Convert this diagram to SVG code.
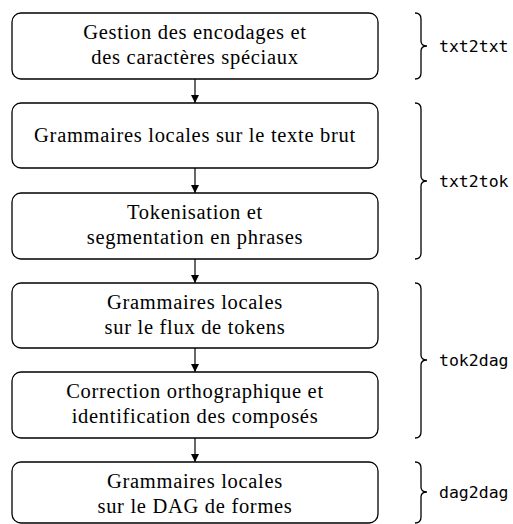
<svg xmlns="http://www.w3.org/2000/svg" width="513" height="524" viewBox="0 0 513 524">
<style>
.box{fill:#fff;stroke:#000;stroke-width:1.3}
.br{fill:none;stroke:#000;stroke-width:1.3}
.c{stroke:#000;stroke-width:1.2;fill:none}
</style>
<defs>
<marker id="ah" markerWidth="8" markerHeight="10" refX="8" refY="5" orient="auto" markerUnits="userSpaceOnUse">
<path d="M0,1 L8,5 L0,9 z" fill="#000"/>
</marker>
</defs>
<g id="connectors">
<line class="c" x1="195" y1="79" x2="195" y2="103" marker-end="url(#ah)"/>
<line class="c" x1="195" y1="168" x2="195" y2="193" marker-end="url(#ah)"/>
<line class="c" x1="195" y1="259" x2="195" y2="283" marker-end="url(#ah)"/>
<line class="c" x1="195" y1="348" x2="195" y2="372" marker-end="url(#ah)"/>
<line class="c" x1="195" y1="438" x2="195" y2="462" marker-end="url(#ah)"/>
</g>
<g id="nodes" font-family="Liberation Serif" font-size="20.5" text-anchor="middle" letter-spacing="0.7" fill="#000">
<g id="n1"><rect class="box" x="12" y="13" width="366" height="66" rx="9"/>
<text x="195" y="39">Gestion des encodages et</text>
<text x="195" y="64">des caractères spéciaux</text></g>
<g id="n2"><rect class="box" x="12" y="103" width="366" height="65" rx="9"/>
<text x="195" y="142">Grammaires locales sur le texte brut</text></g>
<g id="n3"><rect class="box" x="12" y="193" width="366" height="66" rx="9"/>
<text x="195" y="219">Tokenisation et</text>
<text x="195" y="244">segmentation en phrases</text></g>
<g id="n4"><rect class="box" x="12" y="283" width="366" height="65" rx="9"/>
<text x="195" y="309">Grammaires locales</text>
<text x="195" y="334">sur le flux de tokens</text></g>
<g id="n5"><rect class="box" x="12" y="372" width="366" height="66" rx="9"/>
<text x="195" y="398">Correction orthographique et</text>
<text x="195" y="423">identification des composés</text></g>
<g id="n6"><rect class="box" x="12" y="462" width="366" height="61" rx="9"/>
<text x="195" y="488">Grammaires locales</text>
<text x="195" y="513">sur le DAG de formes</text></g>
</g>
<g id="braces" font-family="DejaVu Sans Mono" font-size="16.5" fill="#000">
<path class="br" d="M415,13 Q421,13 421,19 L421,41 Q421,46 427,46 Q421,46 421,51 L421,73 Q421,79 415,79"/>
<text x="439" y="52">txt2txt</text>
<path class="br" d="M415,103 Q421,103 421,109 L421,176 Q421,181 427,181 Q421,181 421,186 L421,253 Q421,259 415,259"/>
<text x="439" y="187">txt2tok</text>
<path class="br" d="M415,283 Q421,283 421,289 L421,355 Q421,360 427,360 Q421,360 421,365 L421,432 Q421,438 415,438"/>
<text x="439" y="366">tok2dag</text>
<path class="br" d="M415,462 Q421,462 421,468 L421,487 Q421,492 427,492 Q421,492 421,497 L421,517 Q421,523 415,523"/>
<text x="439" y="498">dag2dag</text>
</g>
</svg>
